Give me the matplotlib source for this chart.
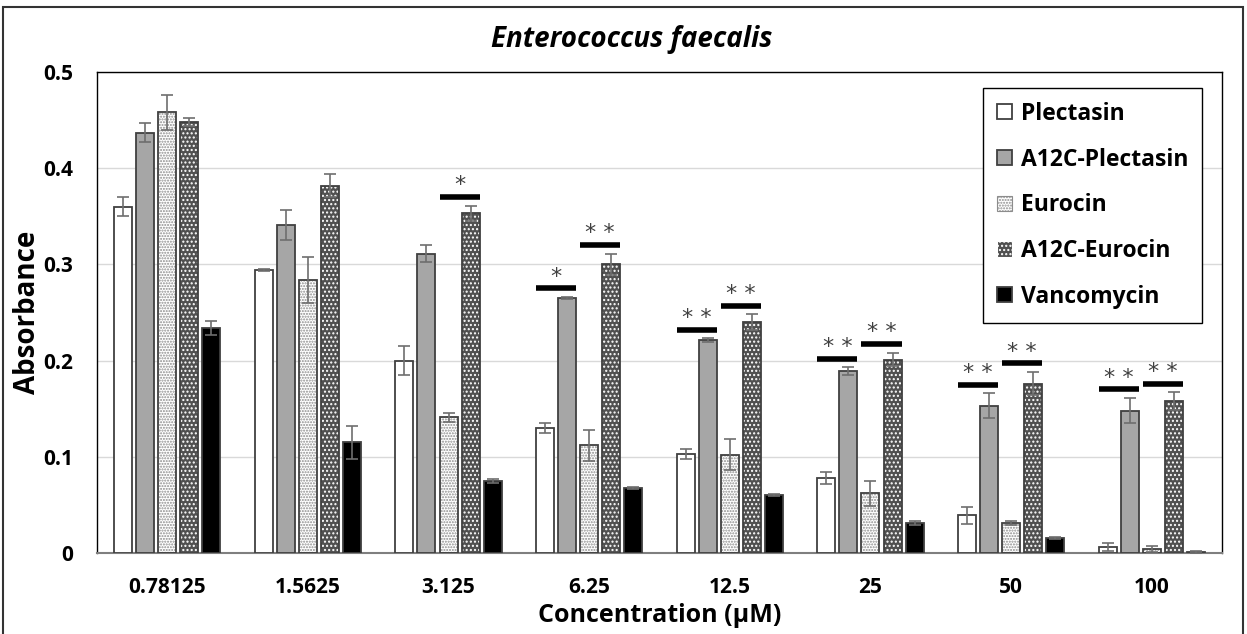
import numpy as np
import matplotlib
matplotlib.use("Agg")
import matplotlib.pyplot as plt
from matplotlib.patches import Rectangle

plt.rcParams['font.family'] = ['Open Sans', 'DejaVu Sans']
plt.rcParams['hatch.linewidth'] = 1.0

concentrations = ['0.78125', '1.5625', '3.125', '6.25', '12.5', '25', '50', '100']
series = ['Plectasin', 'A12C-Plectasin', 'Eurocin', 'A12C-Eurocin', 'Vancomycin']

plectasin = [0.360, 0.294, 0.200, 0.130, 0.103, 0.078, 0.039, 0.006]
plectasin_err = [0.010, 0.001, 0.015, 0.005, 0.005, 0.006, 0.009, 0.004]
a12c_plectasin = [0.437, 0.341, 0.311, 0.265, 0.221, 0.189, 0.153, 0.148]
a12c_plectasin_err = [0.010, 0.016, 0.009, 0.001, 0.002, 0.004, 0.013, 0.013]
eurocin = [0.458, 0.284, 0.141, 0.112, 0.102, 0.062, 0.031, 0.004]
eurocin_err = [0.018, 0.024, 0.005, 0.016, 0.016, 0.013, 0.002, 0.003]
a12c_eurocin = [0.448, 0.382, 0.353, 0.300, 0.240, 0.201, 0.176, 0.158]
a12c_eurocin_err = [0.004, 0.012, 0.008, 0.011, 0.008, 0.007, 0.012, 0.009]
vancomycin = [0.234, 0.115, 0.075, 0.068, 0.060, 0.031, 0.016, 0.001]
vancomycin_err = [0.007, 0.017, 0.002, 0.001, 0.001, 0.002, 0.001, 0.001]

# significance marks: Plectasin vs A12C-Plectasin, Eurocin vs A12C-Eurocin
sig_plectasin = ['', '', '', '*', '**', '**', '**', '**']
sig_eurocin = ['', '', '*', '**', '**', '**', '**', '**']

values = [plectasin, a12c_plectasin, eurocin, a12c_eurocin, vancomycin]
errors = [plectasin_err, a12c_plectasin_err, eurocin_err, a12c_eurocin_err, vancomycin_err]

# face colour, hatch, hatch colour
styles = [
    ('white', None, None),
    ('#a6a6a6', None, None),
    ('white', '......', '#8c8c8c'),
    ('#505050', '....', 'white'),
    ('black', None, None),
]
edge = '#404040'

fig = plt.figure(figsize=(12.47, 6.34), dpi=100)
ax = fig.add_axes([97 / 1247, 81 / 634, 1125 / 1247, 481 / 634])

x = np.arange(len(concentrations))
slot = 0.157
width = 0.128
offsets = (np.arange(len(series)) - 2) * slot

for vals, errs, off, (fc, hatch, hc), name in zip(values, errors, offsets, styles, series):
    if hatch:
        ax.bar(x + off, vals, width, color=fc, hatch=hatch, edgecolor=hc, linewidth=0, zorder=2)
        ax.bar(x + off, vals, width, facecolor='none', edgecolor=edge, linewidth=1.3, zorder=3)
        # legend swatch: hatch colour doubles as its edge colour
        ax.bar(0, 0, 0, color=fc, hatch=hatch, edgecolor=hc, linewidth=0.8, label=name)
    else:
        ax.bar(x + off, vals, width, color=fc, edgecolor=edge, linewidth=1.3, zorder=3, label=name)
    ax.errorbar(x + off, vals, yerr=errs, fmt='none', ecolor='#6e6e6e', elinewidth=1.2,
                capsize=4, capthick=1.2, zorder=4)

# significance brackets over the pairs
def add_sig(i, a, b, mark):
    if not mark:
        return
    top = max(values[a][i] + errors[a][i], values[b][i] + errors[b][i]) + 0.009
    x0 = x[i] + offsets[a] - width / 2
    x1 = x[i] + offsets[b] + width / 2
    ax.plot([x0, x1], [top, top], color='black', lw=4, solid_capstyle='butt', zorder=5)
    ax.text((x0 + x1) / 2, top + 0.002, ' '.join(mark), ha='center', va='bottom',
            fontsize=16, color='#404040', family='DejaVu Sans')

for i in range(len(concentrations)):
    add_sig(i, 0, 1, sig_plectasin[i])
    add_sig(i, 2, 3, sig_eurocin[i])

ax.set_xlim(-0.5, len(concentrations) - 0.5)
ax.set_ylim(0, 0.5)
ax.set_yticks(np.arange(0, 0.51, 0.1))
ax.set_yticklabels(['0', '0.1', '0.2', '0.3', '0.4', '0.5'])
ax.set_xticks(x)
ax.set_xticklabels(concentrations)
ax.tick_params(length=0, labelsize=15)
ax.tick_params(axis='y', pad=17)
ax.tick_params(axis='x', pad=17)
for lab in ax.get_xticklabels() + ax.get_yticklabels():
    lab.set_fontweight('bold')
ax.grid(axis='y', color='#d9d9d9', lw=1, zorder=0)
ax.set_axisbelow(True)
for s in ax.spines.values():
    s.set_color('black')
    s.set_linewidth(1)
ax.spines['bottom'].set_color('#7f7f7f')
ax.spines['bottom'].set_linewidth(1.5)

ax.set_ylabel('Absorbance', fontsize=20, fontweight='bold')
ax.yaxis.set_label_coords(-55 / 1125, 0.5)
ax.set_xlabel('Concentration (µM)', fontsize=18, fontweight='bold', labelpad=4)
fig.text(632 / 1247, 1 - 40 / 634, 'Enterococcus faecalis', fontsize=20, fontweight='bold',
         style='italic', ha='center', va='center')

leg = ax.legend(loc='upper right', bbox_to_anchor=(1105 / 1125, 465 / 481), borderaxespad=0,
                fancybox=False, edgecolor='black', framealpha=1,
                prop={'weight': 'bold', 'size': 16.5}, handlelength=0.65, handleheight=0.65,
                handletextpad=0.4, labelspacing=0.95, borderpad=0.6)
leg.get_frame().set_linewidth(1)

fig.patches.append(Rectangle((3 / 1247, -0.02), 1240 / 1247, 1.0089, transform=fig.transFigure,
                             fill=False, edgecolor='#333333', lw=1.5))

fig.savefig('out.png', dpi=100)
